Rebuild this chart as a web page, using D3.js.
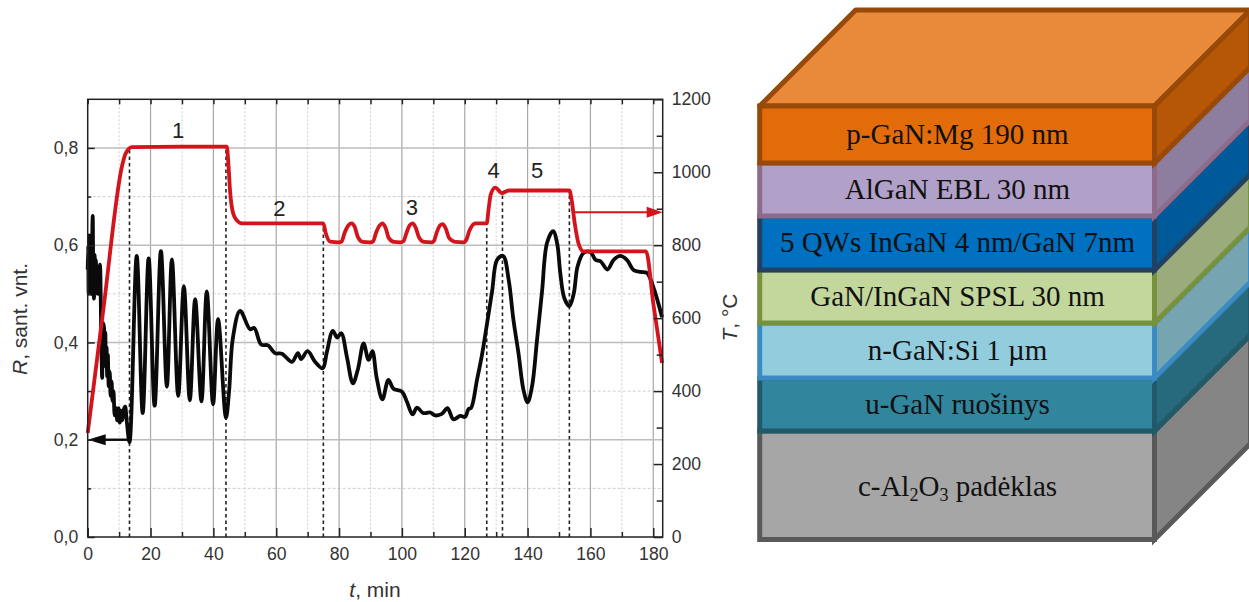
<!DOCTYPE html>
<html>
<head>
<meta charset="utf-8">
<script src="https://cdnjs.cloudflare.com/ajax/libs/d3/7.8.5/d3.min.js"></script>
<style>
  body { margin: 0; background: #fff; }
  svg { display: block; }
  .tick text { font-family: "Liberation Sans", Arial, sans-serif; font-size: 17.6px; fill: #333; }
  .title { font-family: "Liberation Sans", Arial, sans-serif; font-size: 21px; fill: #333; }
  .step { font-family: "Liberation Sans", Arial, sans-serif; font-size: 22px; fill: #222; text-anchor: middle; }
  .layer { font-family: "Liberation Serif", "Times New Roman", serif; font-size: 29px; fill: #111; text-anchor: middle; }
</style>
</head>
<body>
<div id="chart"></div>
<script>
// temperature trace, T in deg C
var tempTime = [0, 5, 11, 12, 13, 14, 30, 44.3, 44.8, 45.3, 46.3, 47.5, 49, 60, 75, 75.7, 77.2, 80, 80.8, 81.8, 83, 84, 85, 86, 87.5, 90, 90.8, 91.8, 93, 93.8, 94.8, 95.8, 97.5, 99.5, 100.5, 101.5, 102.5, 103.4, 104.4, 105.4, 107, 109.5, 110.2, 111.2, 112.2, 113, 114, 115, 117, 119.6, 120.5, 121.5, 123.4, 127, 127.6, 128.3, 129.7, 131.8, 134, 153.3, 154, 155, 156.2, 157.8, 177.7, 180, 182.8];
var tempValues = [285, 625, 1020, 1050, 1064, 1069, 1070, 1070, 1020, 950, 887, 868, 860, 860, 860, 835, 810, 808, 810, 835, 855, 860, 850, 822, 809, 808, 810, 835, 855, 860, 848, 820, 809, 808, 811, 835, 855, 860, 848, 822, 809, 808, 812, 838, 855, 858, 845, 820, 809, 808, 815, 840, 860, 860, 900, 940, 958, 943, 950, 950, 925, 860, 805, 783, 783, 641, 477];

// reflectivity trace, R in a.u.
var reflTime = [0, 0.15, 0.3, 0.45, 0.6, 0.75, 0.9, 1.05, 1.2, 1.4, 1.6, 1.8, 2, 2.2, 2.4, 2.6, 2.8, 3, 3.2, 3.4, 3.6, 3.9, 4.3, 4.6, 4.9, 5.2, 5.4, 5.6, 5.8, 6, 6.2, 6.4, 6.7, 7, 7.3, 7.6, 7.9, 8.2, 8.6, 9, 9.4, 9.8, 10.2, 10.6, 11, 11.4, 11.9, 12.4, 13.3, 15.6, 17.5, 19.4, 21.3, 23.3, 25.2, 26.8, 28.8, 30.6, 32.5, 34.2, 36.2, 37.9, 39.9, 41.5, 44, 45, 46.2, 48.5, 51.7, 53, 55.2, 57.4, 59.6, 61.8, 65, 66.9, 67.9, 70, 72.4, 74.8, 76.1, 78, 79.4, 80.7, 82.5, 84.4, 86, 87.8, 89.4, 90.6, 92, 93.8, 95.7, 97.3, 100, 101.6, 103.4, 104.8, 106.8, 109, 110.6, 112.7, 114.5, 116.4, 118.6, 120.1, 121.2, 122, 123.9, 125.5, 127, 128.7, 130.3, 132.2, 134, 135.5, 137.1, 138.7, 140, 141.4, 143, 144.6, 146.2, 148.1, 149.4, 150.4, 151.7, 153.3, 154.7, 155.9, 157.8, 160, 161.6, 163.2, 165.4, 167.4, 169.5, 171.6, 173.7, 176, 178, 180, 182.8];
var reflValues = [0.55, 0.6, 0.5, 0.62, 0.52, 0.6, 0.5, 0.61, 0.5, 0.6, 0.66, 0.52, 0.49, 0.58, 0.5, 0.57, 0.52, 0.55, 0.5, 0.52, 0.53, 0.56, 0.42, 0.327, 0.44, 0.43, 0.36, 0.42, 0.35, 0.39, 0.33, 0.375, 0.31, 0.34, 0.29, 0.32, 0.28, 0.3, 0.25, 0.265, 0.24, 0.265, 0.235, 0.26, 0.24, 0.26, 0.268, 0.24, 0.195, 0.578, 0.255, 0.573, 0.27, 0.588, 0.309, 0.571, 0.29, 0.516, 0.281, 0.489, 0.279, 0.505, 0.273, 0.448, 0.245, 0.3, 0.409, 0.465, 0.427, 0.43, 0.396, 0.394, 0.378, 0.377, 0.36, 0.378, 0.366, 0.382, 0.36, 0.347, 0.38, 0.424, 0.41, 0.419, 0.37, 0.316, 0.345, 0.398, 0.364, 0.382, 0.326, 0.283, 0.323, 0.305, 0.299, 0.278, 0.252, 0.266, 0.255, 0.256, 0.25, 0.253, 0.265, 0.242, 0.249, 0.247, 0.263, 0.265, 0.323, 0.375, 0.435, 0.505, 0.57, 0.578, 0.528, 0.446, 0.378, 0.302, 0.277, 0.309, 0.405, 0.505, 0.605, 0.629, 0.604, 0.543, 0.491, 0.475, 0.501, 0.556, 0.584, 0.586, 0.57, 0.567, 0.55, 0.57, 0.578, 0.57, 0.549, 0.545, 0.543, 0.514, 0.452];

// dropped lines that split the growth steps
var markerTime = [13.3, 44, 75, 127, 132, 153.3];
var markerTemp = [1069, 1070, 860, 860, 945, 950];

var stepLabels = ["1", "2", "3", "4", "5"];
var stepTime = [28.8, 61, 103.2, 129.2, 143];
var stepTemp = [1094, 880, 883, 984, 984];

var timeMajor = [0, 20, 40, 60, 80, 100, 120, 140, 160, 180];
var timeMinor = [10, 30, 50, 70, 90, 110, 130, 150, 170];
var reflMajor = [0, 0.2, 0.4, 0.6, 0.8];
var reflMinor = [0.1, 0.3, 0.5, 0.7];
var tempMajor = [0, 200, 400, 600, 800, 1000, 1200];
var tempMinor = [100, 300, 500, 700, 900, 1100];

// right panel, layers top to bottom
var layerNames = ["p-GaN:Mg 190 nm", "AlGaN EBL 30 nm", "5 QWs InGaN 4 nm/GaN 7nm", "GaN/InGaN SPSL 30 nm", "n-GaN:Si 1 µm", "u-GaN ruošinys", "c-Al|2|O|3| padėklas"];
var layerFront = ["#e36c0a", "#b1a0c7", "#0070c0", "#c3d69b", "#93cddd", "#31859c", "#a6a6a6"];
var layerSide = ["#b65708", "#8d7e9f", "#005a9a", "#9cab7c", "#76a4b1", "#276a7d", "#858585"];
var layerStroke = ["#984807", "#8e6b8a", "#244061", "#76923c", "#3a8bc4", "#215968", "#595959"];

var svg = d3.select("#chart").append("svg").attr("width", 1249).attr("height", 602);

var left = 87.7, right = 662.7, top_ = 99.3, bottom = 537;

var x = d3.scaleLinear().domain([0, 183]).range([left, right]);
var yR = d3.scaleLinear().domain([0, 0.9]).range([bottom, top_]);
var yT = d3.scaleLinear().domain([0, 1200]).range([bottom, top_]);

var comma = function(d) { return d3.format(".1f")(d).replace(".", ","); };

// grid
var grid = svg.append("g");
function gridLines(cls, data, vertical, color, w, dash) {
  grid.selectAll("." + cls).data(data).enter().append("line")
    .attr("class", cls)
    .attr("x1", function(d) { return vertical ? x(d) : left; })
    .attr("x2", function(d) { return vertical ? x(d) : right; })
    .attr("y1", function(d) { return vertical ? top_ : yR(d); })
    .attr("y2", function(d) { return vertical ? bottom : yR(d); })
    .attr("stroke", color).attr("stroke-width", w).attr("stroke-dasharray", dash);
}
gridLines("vmin", timeMinor, true, "#cfcfcf", 1, "2,2");
gridLines("hmin", reflMinor, false, "#cfcfcf", 1, "3,2");
gridLines("vmaj", timeMajor.slice(1), true, "#a8a8a8", 1.2, null);
gridLines("hmaj", reflMajor.slice(1), false, "#bdbdbd", 1.6, null);

// dropped lines
svg.append("g").selectAll("line").data(markerTime).enter().append("line")
  .attr("x1", function(d) { return x(d); })
  .attr("x2", function(d) { return x(d); })
  .attr("y1", bottom)
  .attr("y2", function(d, i) { return yT(markerTemp[i]); })
  .attr("stroke", "#222").attr("stroke-width", 1.6).attr("stroke-dasharray", "3.5,3");

// curves
var reflLine = d3.line()
  .x(function(d, i) { return x(reflTime[i]); })
  .y(function(d) { return yR(d); })
  .curve(d3.curveCatmullRom.alpha(0.5));
var tempLine = d3.line()
  .x(function(d, i) { return x(tempTime[i]); })
  .y(function(d) { return yT(d); })
  .curve(d3.curveMonotoneX);

svg.append("path").attr("d", reflLine(reflValues))
  .attr("fill", "none").attr("stroke", "#0a0a0a").attr("stroke-width", 3.8).attr("stroke-linejoin", "round");
svg.append("path").attr("d", tempLine(tempValues))
  .attr("fill", "none").attr("stroke", "#d4141c").attr("stroke-width", 3.8).attr("stroke-linejoin", "round");

// arrows towards each axis
svg.append("line").attr("x1", x(13)).attr("x2", x(3)).attr("y1", yR(0.2)).attr("y2", yR(0.2))
  .attr("stroke", "#0a0a0a").attr("stroke-width", 2.4);
svg.append("path")
  .attr("d", "M0,0L18,-5.5L18,5.5Z")
  .attr("transform", "translate(" + x(0) + "," + yR(0.2) + ")")
  .attr("fill", "#0a0a0a");
svg.append("line").attr("x1", x(155)).attr("x2", x(178)).attr("y1", yT(890)).attr("y2", yT(890))
  .attr("stroke", "#d4141c").attr("stroke-width", 2);
svg.append("path")
  .attr("d", "M0,0L-16,-5.5L-16,5.5Z")
  .attr("transform", "translate(" + right + "," + yT(890) + ")")
  .attr("fill", "#d4141c");

// frame and axes
svg.append("rect").attr("x", left).attr("y", top_).attr("width", right - left).attr("height", bottom - top_)
  .attr("fill", "none").attr("stroke", "#222").attr("stroke-width", 1.5);

function axisGroup(axis, tx, ty) {
  var g = svg.append("g").attr("transform", "translate(" + tx + "," + ty + ")").call(axis);
  g.select(".domain").remove();
  g.selectAll("line").attr("stroke", "#222").attr("stroke-width", 1.5);
  return g;
}

axisGroup(d3.axisBottom(x).tickValues(timeMajor).tickSize(-9).tickPadding(11).tickFormat(d3.format("d")), 0, bottom);
axisGroup(d3.axisBottom(x).tickValues(timeMinor).tickSize(-5).tickFormat(""), 0, bottom);
axisGroup(d3.axisTop(x).tickValues(timeMajor.concat(timeMinor)).tickSize(-5).tickFormat(""), 0, top_);
axisGroup(d3.axisLeft(yR).tickValues(reflMajor).tickSize(-7).tickPadding(9.5).tickFormat(comma), left, 0);
axisGroup(d3.axisLeft(yR).tickValues(reflMinor).tickSize(-3.5).tickFormat(""), left, 0);
axisGroup(d3.axisRight(yT).tickValues(tempMajor).tickSize(-9).tickPadding(9).tickFormat(d3.format("d")), right, 0);
axisGroup(d3.axisRight(yT).tickValues(tempMinor).tickSize(-6).tickFormat(""), right, 0);

// axis titles
var tx = svg.append("text").attr("class", "title").attr("x", 375).attr("y", 597).attr("text-anchor", "middle");
tx.append("tspan").attr("font-style", "italic").text("t");
tx.append("tspan").text(", min");
var ty = svg.append("text").attr("class", "title").attr("text-anchor", "middle")
  .attr("transform", "translate(27,319) rotate(-90)");
ty.append("tspan").attr("font-style", "italic").text("R");
ty.append("tspan").text(", sant. vnt.");
var tt = svg.append("text").attr("class", "title").attr("text-anchor", "middle")
  .attr("transform", "translate(736.5,317.5) rotate(-90)");
tt.append("tspan").attr("font-style", "italic").text("T");
tt.append("tspan").text(", °C");

svg.append("g").selectAll("text").data(stepLabels).enter().append("text")
  .attr("class", "step")
  .attr("x", function(d, i) { return x(stepTime[i]); })
  .attr("y", function(d, i) { return yT(stepTemp[i]); })
  .text(function(d) { return d; });

// layer stack
var edges = d3.scaleOrdinal().domain(d3.range(8)).range([106, 163, 216, 270, 323, 378, 431, 539.5]);
var stackL = 759.7, stackR = 1154.5, depth = 96, sw = 5;
var stack = svg.append("g");

stack.append("polygon")
  .attr("points", [[stackL, edges(0)], [stackL + depth, edges(0) - depth], [stackR + depth, edges(0) - depth], [stackR, edges(0)]].join(" "))
  .attr("fill", "#e98a3a").attr("stroke", layerStroke[0]).attr("stroke-width", sw).attr("stroke-linejoin", "round");

// bottom layer first, so each stroke above sits over the one beneath
d3.range(layerNames.length).reverse().forEach(function(i) {
  var y0 = edges(i), y1 = edges(i + 1);
  stack.append("polygon")
    .attr("points", [[stackR, y0], [stackR + depth, y0 - depth], [stackR + depth, y1 - depth], [stackR, y1]].join(" "))
    .attr("fill", layerSide[i]).attr("stroke", layerStroke[i]).attr("stroke-width", sw);
  stack.append("rect")
    .attr("x", stackL).attr("y", y0).attr("width", stackR - stackL).attr("height", y1 - y0)
    .attr("fill", layerFront[i]).attr("stroke", layerStroke[i]).attr("stroke-width", sw);
});

d3.range(layerNames.length).forEach(function(i) {
  var mid = (edges(i) + edges(i + 1)) / 2;
  var t = stack.append("text").attr("class", "layer").attr("x", 957.5).attr("y", mid + (i == 6 ? 11 : 9));
  layerNames[i].split("|").forEach(function(part, j) {
    var sub = j % 2 == 1;
    var s = t.append("tspan").text(part);
    if (sub) s.attr("font-size", 18).attr("dy", 5);
    else if (j > 0) s.attr("dy", -5);
  });
});
</script>
</body>
</html>
